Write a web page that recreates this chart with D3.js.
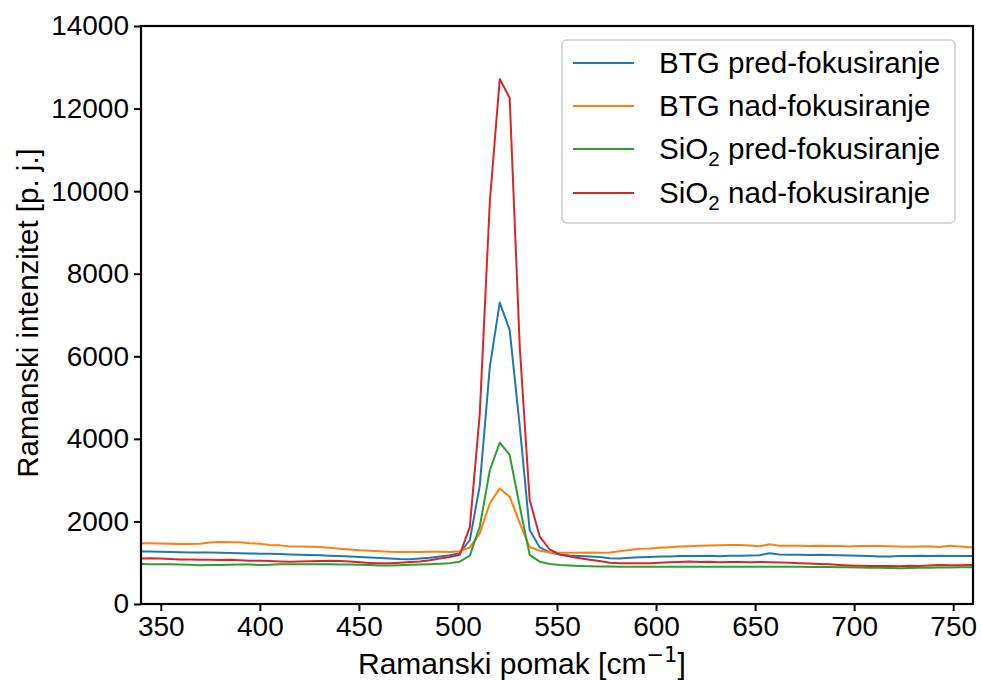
<!DOCTYPE html>
<html>
<head>
<meta charset="utf-8">
<script src="https://cdn.jsdelivr.net/npm/d3@7/dist/d3.min.js"></script>
<style>
  html, body { margin: 0; padding: 0; background: #fff; }
  svg { display: block; font-family: "Liberation Sans", Arial, sans-serif; }
</style>
</head>
<body>
<svg id="chart" width="982" height="680"></svg>
<script>
// Raman shift values (cm^-1)
const ramanShift = [
  339.5, 344.6, 349.6, 354.7, 359.7, 364.7, 369.8, 374.8, 379.9, 384.9,
  390.0, 395.0, 400.0, 405.1, 410.1, 415.2, 420.2, 425.3, 430.3, 435.4,
  440.4, 445.4, 450.5, 455.5, 460.6, 465.6, 470.7, 475.7, 480.8, 485.8,
  490.8, 495.9, 500.9, 506.0, 511.0, 516.1, 521.1, 526.1, 531.2, 536.2,
  541.3, 546.3, 551.4, 556.4, 561.5, 566.5, 571.5, 576.6, 581.6, 586.7,
  591.7, 596.8, 601.8, 606.8, 611.9, 616.9, 622.0, 627.0, 632.1, 637.1,
  642.2, 647.2, 652.2, 657.3, 662.3, 667.4, 672.4, 677.5, 682.5, 687.6,
  692.6, 697.6, 702.7, 707.7, 712.8, 717.8, 722.9, 727.9, 733.0, 738.0,
  743.0, 748.1, 753.1, 758.2, 763.2
];

const btgPred = [
  1270, 1270, 1265, 1260, 1255, 1250, 1245, 1245, 1240, 1235,
  1230, 1225, 1220, 1215, 1210, 1200, 1190, 1185, 1180, 1170,
  1160, 1150, 1140, 1125, 1115, 1105, 1090, 1085, 1100, 1120,
  1150, 1180, 1230, 1550, 2860, 5750, 7300, 6640, 4300, 1790,
  1370, 1250, 1200, 1175, 1160, 1150, 1140, 1110, 1105, 1120,
  1130, 1140, 1150, 1150, 1160, 1160, 1165, 1170, 1155, 1170,
  1170, 1175, 1180, 1230, 1200, 1190, 1190, 1185, 1190, 1185,
  1180, 1175, 1170, 1160, 1150, 1150, 1160, 1165, 1170, 1165,
  1170, 1165, 1160, 1160, 1160
];

const btgNad = [
  1470, 1470, 1465, 1460, 1455, 1455, 1460, 1490, 1500, 1495,
  1495, 1470, 1460, 1430, 1420, 1390, 1390, 1385, 1380, 1360,
  1340, 1320, 1300, 1290, 1280, 1265, 1260, 1260, 1260, 1265,
  1265, 1260, 1280, 1370, 1710, 2440, 2800, 2600, 1960, 1380,
  1290, 1245, 1240, 1240, 1240, 1245, 1240, 1250, 1280, 1310,
  1340, 1345, 1360, 1375, 1390, 1400, 1410, 1415, 1425, 1430,
  1430, 1415, 1400, 1445, 1410, 1410, 1410, 1405, 1410, 1405,
  1405, 1395, 1405, 1405, 1405, 1400, 1390, 1385, 1395, 1400,
  1380, 1410, 1390, 1375, 1370
];

const sioPred = [
  970, 965, 960, 960, 955, 950, 940, 945, 945, 950,
  955, 955, 945, 950, 960, 965, 965, 960, 960, 960,
  955, 955, 950, 945, 930, 935, 940, 950, 955, 965,
  975, 990, 1025, 1170, 1870, 3240, 3907, 3610, 2360, 1190,
  1025, 970, 945, 930, 920, 915, 910, 910, 905, 905,
  905, 905, 900, 900, 900, 900, 900, 900, 900, 900,
  900, 900, 900, 900, 900, 900, 900, 895, 895, 895,
  890, 890, 885, 880, 875, 870, 865, 870, 875, 880,
  885, 885, 888, 888, 888
];

const sioNad = [
  1100, 1110, 1105, 1090, 1080, 1075, 1070, 1070, 1065, 1070,
  1060, 1050, 1045, 1040, 1030, 1025, 1030, 1035, 1040, 1045,
  1040, 1030, 1010, 995, 985, 990, 1000, 1015, 1030, 1060,
  1100, 1140, 1190, 1870, 4600, 9750, 12716, 12264, 6225, 2520,
  1630, 1320, 1200, 1150, 1110, 1070, 1040, 1000, 985, 985,
  985, 990, 1000, 1010, 1020, 1030, 1020, 1025, 1010, 1015,
  1020, 1010, 1020, 1010, 1005, 1000, 990, 980, 970, 960,
  945, 935, 925, 920, 920, 920, 915, 925, 920, 930,
  945, 940, 940, 945, 945
];

const seriesNames = ["BTG pred-fokusiranje", "BTG nad-fokusiranje", "SiO2 pred-fokusiranje", "SiO2 nad-fokusiranje"];
const seriesColors = ["#1f77b4", "#ff7f0e", "#2ca02c", "#d62728"];
const seriesValues = [btgPred, btgNad, sioPred, sioNad];

const xTicks = [350, 400, 450, 500, 550, 600, 650, 700, 750];
const yTicks = [0, 2000, 4000, 6000, 8000, 10000, 12000, 14000];

const svg = d3.select("#chart");
const m = { left: 141, right: 973, top: 26, bottom: 604 };

const x = d3.scaleLinear().domain([340, 760]).range([m.left, m.right]);
const y = d3.scaleLinear().domain([0, 14000]).range([m.bottom, m.top]);

svg.append("defs").append("clipPath").attr("id", "clip")
  .append("rect").attr("x", m.left).attr("y", m.top)
  .attr("width", m.right - m.left).attr("height", m.bottom - m.top);

const line = d3.line().x((d, i) => x(ramanShift[i])).y(d => y(d));

const plot = svg.append("g").attr("clip-path", "url(#clip)");
seriesValues.forEach((vals, k) => {
  plot.append("path").datum(vals)
    .attr("fill", "none")
    .attr("stroke", seriesColors[k])
    .attr("stroke-width", 2)
    .attr("stroke-linejoin", "round")
    .attr("d", line);
});

// axes
const xAxis = d3.axisBottom(x).tickValues(xTicks).tickSize(7).tickPadding(5).tickFormat(d3.format("d"));
const yAxis = d3.axisLeft(y).tickValues(yTicks).tickSize(7).tickPadding(5).tickFormat(d3.format("d"));

const gx = svg.append("g").attr("transform", `translate(0,${m.bottom})`).call(xAxis);
const gy = svg.append("g").attr("transform", `translate(${m.left},0)`).call(yAxis);
[gx, gy].forEach(g => {
  g.select(".domain").remove();
  g.selectAll(".tick line").attr("stroke", "#000").attr("stroke-width", 2);
  g.selectAll(".tick text").attr("fill", "#000")
    .style("font-size", "28px").style("font-family", "'Liberation Sans', Arial, sans-serif");
});

// frame
svg.append("rect").attr("x", m.left).attr("y", m.top)
  .attr("width", m.right - m.left).attr("height", m.bottom - m.top)
  .attr("fill", "none").attr("stroke", "#000").attr("stroke-width", 2.2);

// axis labels
const xl = svg.append("text").attr("x", 358).attr("y", 674)
  .attr("text-anchor", "start").style("font-size", "30px").attr("fill", "#000");
xl.append("tspan").text("Ramanski pomak [cm");
xl.append("tspan").attr("dy", -12).style("font-size", "21px").style("font-family", "'DejaVu Sans', sans-serif").text("\u22121");
xl.append("tspan").attr("dy", 12).text("]");

svg.append("text")
  .attr("transform", "translate(38,313) rotate(-90)")
  .attr("text-anchor", "middle")
  .style("font-size", "29.5px").attr("fill", "#000")
  .text("Ramanski intenzitet [p. j.]");

// legend
const lg = svg.append("g");
lg.append("rect").attr("x", 562).attr("y", 40).attr("width", 393).attr("height", 183)
  .attr("rx", 5).attr("fill", "#fff").attr("fill-opacity", 0.8)
  .attr("stroke", "#cccccc").attr("stroke-width", 1.5);
const rowY = [63, 106, 149, 193];
seriesNames.forEach((name, k) => {
  lg.append("line").attr("x1", 573).attr("x2", 634).attr("y1", rowY[k]).attr("y2", rowY[k])
    .attr("stroke", seriesColors[k]).attr("stroke-width", 2);
  const t = lg.append("text").attr("x", 659).attr("y", rowY[k] + 10)
    .style("font-size", "29.6px").attr("fill", "#000");
  if (name.startsWith("SiO2")) {
    t.append("tspan").text("SiO");
    t.append("tspan").attr("dy", 7).style("font-size", "20.5px").text("2");
    t.append("tspan").attr("dy", -7).text(name.slice(4));
  } else {
    t.text(name);
  }
});
</script>
</body>
</html>
